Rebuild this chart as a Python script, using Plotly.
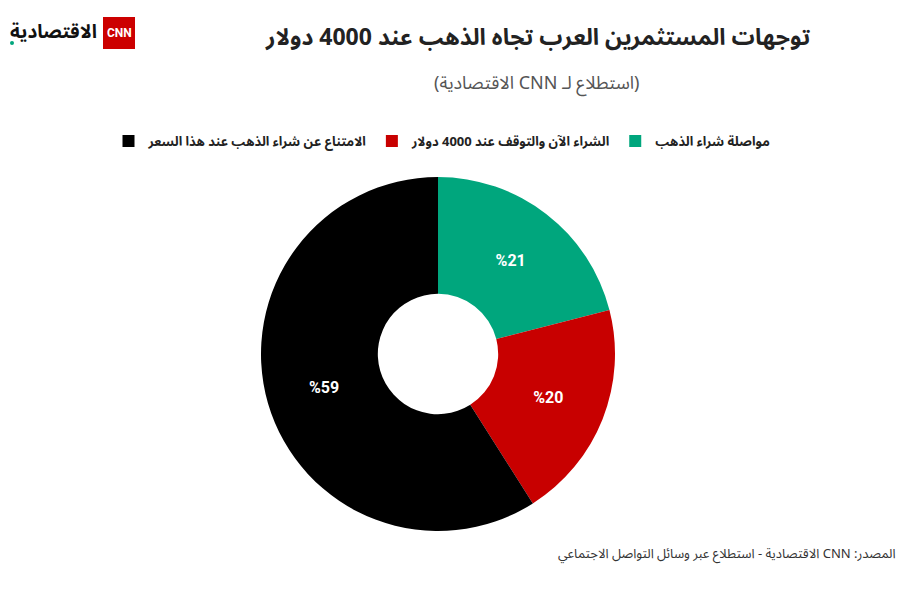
import plotly.graph_objects as go

labels = ["مواصلة شراء الذهب", "الشراء الآن والتوقف عند 4000 دولار", "الامتناع عن شراء الذهب عند هذا السعر"]
values = [21, 20, 59]
colors = ["#00A67D", "#C80000", "#000000"]
title = "توجهات المستثمرين العرب تجاه الذهب عند 4000 دولار"
subtitle = "(استطلاع لـ CNN الاقتصادية)"
source = "المصدر: CNN الاقتصادية - استطلاع عبر وسائل التواصل الاجتماعي"

RLE, PDF = "\u202b", "\u202c"
AR = "Noto Sans Arabic, DejaVu Sans, sans-serif"
W, H = 923, 591
TOP, BOT = 177, 60
cx, R = 438, 177


def py(p):
    # page pixel y -> paper y
    return (H - BOT - p) / (H - TOP - BOT)


def px(p):
    return p / W


fig = go.Figure(go.Pie(
    labels=labels, values=values,
    text=[f"%{v}" for v in values], textinfo="text",
    textfont=dict(family="Roboto", size=16, color="white", weight="bold"),
    insidetextorientation="horizontal",
    marker=dict(colors=colors, line=dict(width=0)),
    hole=0.34, sort=False, direction="clockwise", rotation=0,
    domain=dict(x=[(cx - R) / W, (cx + R) / W], y=[0, 1]),
    hoverinfo="label+percent",
))

fig.update_layout(
    width=W, height=H,
    margin=dict(l=0, r=0, t=TOP, b=BOT),
    paper_bgcolor="white", plot_bgcolor="white",
    font=dict(family=AR, color="#222"),
    showlegend=True,
    legend=dict(orientation="h", x=px(442), xanchor="center", y=1 - 141 / H, yref="container",
                yanchor="middle", traceorder="reversed",
                font=dict(family=AR, size=13, color="#222", weight="bold"),
                itemsizing="constant"),
    annotations=[
        dict(text=f"<b>{title}</b>", x=px(537), y=py(37), xref="paper", yref="paper",
             xanchor="center", yanchor="middle", showarrow=False,
             font=dict(family=AR, size=23, color="#222")),
        dict(text=RLE + subtitle + PDF, x=px(537), y=py(83), xref="paper", yref="paper",
             xanchor="center", yanchor="middle", showarrow=False,
             font=dict(family=AR, size=18, color="#555")),
        dict(text=RLE + source + PDF, x=px(898), y=py(554), xref="paper", yref="paper",
             xanchor="right", yanchor="middle", showarrow=False,
             font=dict(family=AR, size=13, color="#333")),
        dict(text="<b>CNN</b>", x=px(119), y=py(33), xref="paper", yref="paper",
             xanchor="center", yanchor="middle", showarrow=False,
             font=dict(family="Liberation Sans Narrow, Roboto", size=12, color="white")),
        dict(text="<b>الاقتصادية</b>", x=px(99), y=py(32), xref="paper", yref="paper",
             xanchor="right", yanchor="middle", showarrow=False,
             font=dict(family=AR, size=19, color="#111")),
    ],
    shapes=[
        dict(type="rect", xref="paper", yref="paper", x0=px(103), x1=px(135),
             y0=py(49), y1=py(17), fillcolor="#CC0000", line=dict(width=0), layer="below"),
        dict(type="circle", xref="paper", yref="paper", x0=px(10), x1=px(14),
             y0=py(45), y1=py(41), fillcolor="#00A67D", line=dict(width=0)),
    ],
)
fig.write_html("out.html", config={"displayModeBar": False},
               post_script="document.body.style.margin='0';")
